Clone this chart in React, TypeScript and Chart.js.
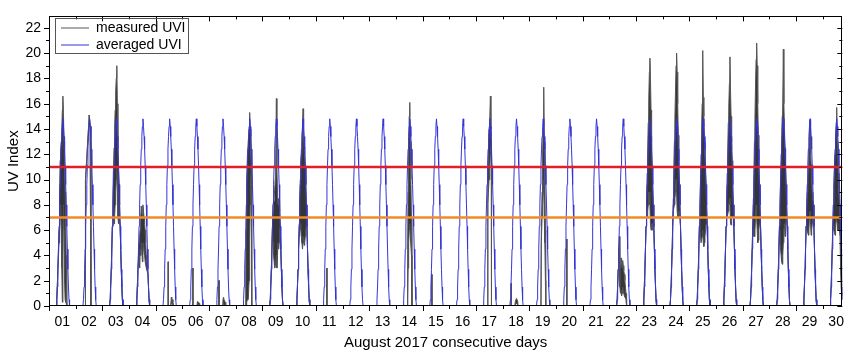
import React, { useEffect, useRef } from 'react';
import { Chart, registerables } from 'chart.js';

Chart.register(...registerables);

const FONT = "'Liberation Sans', Arial, sans-serif";

// ---- axes ----
const dayLabels = ['01','02','03','04','05','06','07','08','09','10','11','12','13','14','15','16','17','18','19','20','21','22','23','24','25','26','27','28','29','30'];
const xMax = 29.73; // days since 1 Aug 00:00
const yMax = 22.9;
const yTickValues = [0, 2, 4, 6, 8, 10, 12, 14, 16, 18, 20, 22];
const xTickDays = [0,1,2,3,4,5,6,7,8,9,10,11,12,13,14,15,16,17,18,19,20,21,22,23,24,25,26,27,28,29];
const yTickUnits = [0,1,2,3,4,5,6,7,8,9,10,11,12,13,14,15,16,17,18,19,20,21,22];

// ---- thresholds ----
const thresholdRed = 11;
const thresholdOrange = 7;

// ---- averaged UVI daily profile (hour of day, UVI) ----
const avgHours = [6.5,7,7.5,8,8.5,9,9.5,10,10.5,11,11.5,12,12.5,13,13.5,14,14.5,15,15.5,16,16.5,17,17.5,18,18.5];
const avgUVI =   [0,0.5,1.5,2.9,4.5,6.3,8.0,9.6,11.1,12.4,13.4,14.2,14.8,14.2,13.4,12.4,11.1,9.6,8.0,6.3,4.5,2.9,1.5,0.5,0];

// ---- measured UVI per day: [hour, upper envelope, lower envelope] ----
type Row = [number, number, number];
const m01: Row[] = [[6.5,0,0],[7,0.5,0.5],[8,2.9,2.9],[9,6,5],[9.5,9,6],[10,11.5,7],[10.5,12.5,8],[11,13,6],[11.5,14,3],[12,15.5,0.3],[12.5,16.6,4],[13,15.2,8],[13.5,13,6],[14,11,2],[14.5,9,0.5],[15,7,0.3],[15.5,4,0.2],[16,0,0]];
const m02: Row[] = [[8.7,0,0],[8.8,10,10],[9.5,11,11],[10.5,12.5,12.5],[11.5,14,14],[12.2,15.1,15.1],[13,14.2,14.2],[13.6,12,12],[13.7,0,0]];
const m03: Row[] = [[6.5,0,0],[7,0.5,0.5],[8,2.9,2.9],[9,6.3,6.3],[9.5,9,6.5],[10,11,7],[10.5,12.5,6.5],[11,14,7],[11.5,15.5,8],[12,17,9],[12.5,18,10],[13,19,11],[13.5,16,9],[14,13,7],[14.5,11,6.5],[15,9.6,7],[15.5,8,7],[16,6.3,6.3],[17,2.9,2.9],[18,0.5,0.5],[18.5,0,0]];
const m04: Row[] = [[6.5,0,0],[7,0.5,0.5],[8,2.9,2.9],[9,5,4],[9.5,5.5,3],[10,6,4.5],[10.5,7,4],[11,7.9,5],[11.5,7.5,4.5],[12,7,3.5],[12.5,8,4],[13,7.5,5],[13.5,7,4.5],[14,6.5,4],[14.5,6,3.5],[15,5,3.5],[15.5,4,3],[16,3.5,3],[17,2.5,2.5],[18,0.5,0.5],[18.5,0,0]];
const m05: Row[] = [[11.1,0,0],[11.2,3.5,3.5],[11.3,0,0],[13.5,0,0],[14,0.7,0.3],[14.5,0.6,0.2],[15,0.5,0.2],[15.5,0.3,0.1],[16,0,0]];
const m06: Row[] = [[9.3,0,0],[9.4,3,3],[9.5,0,0],[13,0,0],[13.5,0.35,0.1],[14.5,0.3,0.1],[15.5,0.2,0],[16,0,0]];
const m07: Row[] = [[8.9,0,0],[9,2,2],[9.1,0,0],[12,0,0],[12.5,0.5,0.1],[13,0.7,0.2],[13.5,0.5,0.1],[14.5,0.3,0],[15,0,0]];
const m08: Row[] = [[8.9,0,0],[9.2,6,0],[9.8,10,0.3],[10.5,12,0.5],[11.2,13,0.5],[12,14,2],[12.5,15.3,5],[13,14,8],[13.5,12,10],[14,11,11],[14.3,0,0]];
const m09: Row[] = [[6.5,0,0],[7,0.5,0.5],[8,2.9,2.9],[9,6.3,6.3],[9.5,8,5],[10,8,4],[10.5,8.5,3.5],[11,8.5,3],[11.5,10,3.2],[12,12,3.5],[12.5,16.4,4],[13,11,3],[13.5,9,4],[14,8,5],[14.5,8.5,4.5],[15,8,5],[15.5,7.5,6],[16,6.3,6.3],[17,2.9,2.9],[18,0.5,0.5],[18.5,0,0]];
const m10: Row[] = [[6.5,0,0],[7,0.5,0.5],[8,2.9,2.9],[8.5,4.5,4.5],[9,6.5,5.5],[9.5,8.5,6],[10,10,6.5],[10.5,11.5,6],[11,12,5.5],[11.5,13,5],[12,14,4.5],[12.5,15.6,5],[13,14,5.5],[13.5,12.5,4.8],[14,12,5],[14.5,11,5.5],[15,9.6,6],[15.5,8,6.5],[16,6.3,6.3],[17,2.9,2.9],[18,0.5,0.5],[18.5,0,0]];
const m11: Row[] = [[9.8,0,0],[9.9,3,3],[10,0,0]];
const m12: Row[] = [];
const m13: Row[] = [];
const m14: Row[] = [[10.2,0,0],[10.6,5,0.5],[11,9,3],[11.5,12,5],[12,15,6],[12.5,16.1,6.5],[13,13,5.5],[13.5,10,5.5],[14,7,4],[14.4,0,0]];
const m15: Row[] = [[8.3,0,0],[8.4,2.5,2.5],[8.5,0,0]];
const m16: Row[] = [];
const m17: Row[] = [[10.6,0,0],[10.7,10,8],[11.2,12,9],[11.8,14,10],[12.5,15,11],[13,16.6,12],[13.5,14,12],[13.9,13,13],[14,0,0]];
const m18: Row[] = [[7.6,0,0],[7.7,1.8,1.8],[7.8,0,0],[11,0,0],[11.5,0.4,0.1],[12.5,0.6,0.2],[13.5,0.4,0.1],[14,0,0]];
const m19: Row[] = [[10.5,0,0],[10.8,6,5],[11.5,9,7],[12,12,8],[12.5,14,9],[13,17.3,10],[13.5,13,7],[14,10,5],[14.5,6,2],[14.7,1.8,1.5],[14.8,0,0]];
const m20: Row[] = [[9.6,0,0],[9.7,5.3,5.3],[9.8,0,0]];
const m21: Row[] = [];
const m22: Row[] = [[6.5,0,0],[7,0.5,0.5],[8,2.9,2.9],[8.5,4.5,4.5],[9,5.5,3],[9.5,3.5,1.5],[10,3,1],[10.5,3.8,1.2],[11,3.5,0.8],[11.5,3,1],[12,3.6,1.5],[12.5,3.2,1.2],[13,2.8,1],[13.5,2.5,0.8],[14,2,0.8],[14.5,1.5,0.6],[15,1,0.5],[15.5,0,0]];
const m23: Row[] = [[6.5,0,0],[7,0.5,0.5],[8,2.9,2.9],[9,6.3,6.3],[9.5,8.5,7],[10,10.5,7],[10.5,12.5,7.5],[11,14.5,8],[11.5,16.5,9],[12,18.5,9],[12.5,19.6,8],[13,18,6.5],[13.5,15.5,6],[14,13,6.5],[14.5,11,6],[15,9.6,6.5],[15.5,8,6.5],[16,6.3,6.3],[17,2.9,2.9],[18,0.5,0.5],[18.5,0,0]];
const m24: Row[] = [[6.5,0,0],[7,0.5,0.5],[8,2.9,2.9],[9,6.3,6.3],[9.5,8.5,7.5],[10,11,7.5],[10.5,13,8],[11,15,8.5],[11.5,17,9],[12,19,10],[12.5,20,9],[13,18.5,7.5],[13.5,16,7],[14,13.5,7],[14.5,11.5,7.5],[15,9.6,7.5],[15.5,8,7.5],[16,6.3,6.3],[17,2.9,2.9],[18,0.5,0.5],[18.5,0,0]];
const m25: Row[] = [[6.5,0,0],[7,0.5,0.5],[8,2.9,2.9],[9,6.3,6.3],[9.5,8,6],[10,10,5.5],[10.5,12,5],[11,14,5],[11.5,16,5.5],[12,20.2,6],[12.5,16.5,5],[13,15,4.7],[13.5,13,5],[14,12,5.5],[14.5,10.5,6],[15,9.6,6.5],[15.5,8,7],[16,6.3,6.3],[17,2.9,2.9],[18,0.5,0.5],[18.5,0,0]];
const m26: Row[] = [[6.5,0,0],[7,0.5,0.5],[8,2.9,2.9],[9,6.3,6.3],[9.5,8.5,7],[10,10.5,7],[10.5,12.5,7],[11,14.5,7.5],[11.5,16,8],[12,17.6,8.5],[12.5,19.7,8],[13,17,6.5],[13.5,15,6.4],[14,13,7],[14.5,11.5,7],[15,9.6,7],[15.5,8,7],[16,6.3,6.3],[17,2.9,2.9],[18,0.5,0.5],[18.5,0,0]];
const m27: Row[] = [[6.5,0,0],[7,0.5,0.5],[8,2.9,2.9],[9,6.3,6.3],[9.5,8.5,6],[10,10.5,5.5],[10.5,13,5.5],[11,15,6],[11.5,17.5,7],[12,19.5,8],[12.5,20.8,7],[13,19,6],[13.5,16,5],[14,13.5,5.2],[14.5,11.5,6],[15,9.6,6.5],[15.5,8,7],[16,6.3,6.3],[17,2.9,2.9],[18,0.5,0.5],[18.5,0,0]];
const m28: Row[] = [[6.5,0,0],[7,0.5,0.5],[8,2.9,2.9],[9,6.3,6],[9.5,8,5],[10,10,4.5],[10.5,12,4],[11,13.5,3.5],[11.5,15,3.3],[12,16.2,4],[12.5,20.3,5],[13,16,6],[13.5,14,6.5],[14,12.5,5.5],[14.5,11,6],[15,9.6,7],[15.5,8,7],[16,6.3,6.3],[17,2.9,2.9],[18,0.5,0.5],[18.5,0,0]];
const m29: Row[] = [[6.5,0,0],[7,0.5,0.5],[8,2.9,2.9],[9,6.3,6.3],[9.5,7.5,6],[10,9,6],[10.5,10,5.8],[11,11,5.6],[11.5,12,6],[12,13.5,7],[12.5,14.7,7.5],[13,12,6.5],[13.5,11.2,5.6],[14,10,6],[14.5,9,6.5],[15,8.5,7],[15.5,8,7],[16,6.3,6.3],[17,2.9,2.9],[18,0.5,0.5],[18.5,0,0]];
const m30: Row[] = [[6.5,0,0],[7,0.5,0.5],[8,2.9,2.9],[9,6.3,6.3],[9.5,8,6.5],[10,9.5,6],[10.5,11,5.8],[11,12,5.6],[11.5,12.9,6],[12,14.5,7],[12.5,15.7,7],[13,13,6.5],[13.5,12,6],[14,10.5,6],[14.5,9,6],[15,8,6],[15.5,7,5.5],[16,5,3],[16.5,3,1.5],[17,1.5,0.8],[17.5,0.8,0.5]];

const measuredDays: Row[][] = [m01,m02,m03,m04,m05,m06,m07,m08,m09,m10,m11,m12,m13,m14,m15,m16,m17,m18,m19,m20,m21,m22,m23,m24,m25,m26,m27,m28,m29,m30];

// legend placement (pixels)
const LEGEND_X = 61;
const LEGEND_Y = 21;
const LEGEND_PAD = 3;
const LEGEND_FONT = 14;
const LEGEND_BOX = 28;

const decorPlugin = {
  id: 'decor',
  afterLayout(chart: any) {
    const lg = chart.legend;
    if (lg) {
      lg.left = LEGEND_X - LEGEND_PAD;
      lg.top = LEGEND_Y - LEGEND_PAD;
    }
  },
  afterDraw(chart: any) {
    const { ctx, chartArea: a, scales } = chart;
    const xs = scales.x;
    const ys = scales.y;
    ctx.save();
    ctx.strokeStyle = '#000';
    ctx.lineWidth = 1;
    ctx.beginPath();
    xTickDays.forEach((v) => {
      if (v > xMax) return;
      const px = Math.round(xs.getPixelForValue(v)) + 0.5;
      const len = v % 2 === 0 ? 5 : 3;
      ctx.moveTo(px, a.bottom);
      ctx.lineTo(px, a.bottom + len);
      ctx.moveTo(px, a.top);
      ctx.lineTo(px, a.top + len);
    });
    yTickUnits.forEach((v) => {
      const py = Math.round(ys.getPixelForValue(v)) + 0.5;
      const len = v % 2 === 0 ? 5 : 3;
      ctx.moveTo(a.left, py);
      ctx.lineTo(a.left - len, py);
      ctx.moveTo(a.right, py);
      ctx.lineTo(a.right - len, py);
    });
    ctx.stroke();
    ctx.strokeRect(Math.round(a.left) + 0.5, Math.round(a.top) + 0.5, Math.round(a.right - a.left) - 1, Math.round(a.bottom - a.top) - 1);

    // legend frame
    const lg = chart.legend;
    if (lg && lg.legendItems) {
      ctx.font = `${LEGEND_FONT}px ${FONT}`;
      let maxW = 0;
      lg.legendItems.forEach((it: any) => { maxW = Math.max(maxW, ctx.measureText(it.text).width); });
      const n = lg.legendItems.length;
      const left = LEGEND_X - 6;
      const top = LEGEND_Y - 3;
      const right = LEGEND_X + LEGEND_BOX + LEGEND_FONT / 2 + maxW + 3;
      const bottom = LEGEND_Y + n * LEGEND_FONT + (n - 1) * LEGEND_PAD + 1;
      ctx.strokeStyle = '#555';
      ctx.strokeRect(left + 0.5, top + 0.5, Math.round(right - left), Math.round(bottom - top));
    }
    ctx.restore();
  },
};

export default function App() {
  const ref = useRef<HTMLCanvasElement | null>(null);

  useEffect(() => {
    if (!ref.current) return;
    Chart.defaults.font.family = FONT;
    Chart.defaults.color = '#000';

    const hiPts: { x: number; y: number }[] = [];
    const loPts: { x: number; y: number }[] = [];
    measuredDays.forEach((rows, d) => {
      rows.forEach(([h, hi, lo]) => {
        hiPts.push({ x: d + h / 24, y: hi });
        loPts.push({ x: d + h / 24, y: lo });
      });
    });
    const avgPts: { x: number; y: number }[] = [];
    dayLabels.forEach((_, d) => {
      avgHours.forEach((h, i) => avgPts.push({ x: d + h / 24, y: avgUVI[i] }));
    });

    const chart = new Chart(ref.current, {
      type: 'line',
      data: {
        datasets: [
          { label: 'measured UVI', data: hiPts, borderColor: '#555555', backgroundColor: '#555555', borderWidth: 1, pointRadius: 0, fill: false, order: 2, pointStyle: 'line' } as any,
          { label: 'measured low', data: loPts, borderColor: '#505050', backgroundColor: '#353535', borderWidth: 1, pointRadius: 0, fill: '-1', order: 2 } as any,
          { label: 'averaged UVI', data: avgPts, borderColor: '#3535d8', backgroundColor: '#3535d8', borderWidth: 1, pointRadius: 0, fill: false, order: 1, pointStyle: 'line' } as any,
          { label: 'UVI 11', data: [{ x: 0, y: thresholdRed }, { x: xMax, y: thresholdRed }], borderColor: '#e01f2a', borderWidth: 2.5, pointRadius: 0, fill: false, order: 0 } as any,
          { label: 'UVI 7', data: [{ x: 0, y: thresholdOrange }, { x: xMax, y: thresholdOrange }], borderColor: '#f28b27', borderWidth: 2.5, pointRadius: 0, fill: false, order: 0 } as any,
        ],
      },
      options: {
        responsive: false,
        animation: false,
        devicePixelRatio: 1,
        layout: { padding: { left: 0, top: 8, right: 9, bottom: 0 }, autoPadding: false } as any,
        elements: { line: { tension: 0 } },
        plugins: {
          tooltip: { enabled: false },
          legend: {
            position: 'chartArea' as any,
            align: 'start',
            labels: {
              usePointStyle: true,
              pointStyle: 'line',
              pointStyleWidth: LEGEND_BOX,
              boxWidth: LEGEND_BOX,
              padding: LEGEND_PAD,
              font: { size: LEGEND_FONT, family: FONT },
              color: '#000',
              filter: (item: any) => item.text === 'measured UVI' || item.text === 'averaged UVI',
              sort: (a: any, b: any) => a.datasetIndex - b.datasetIndex,
            },
          } as any,
        },
        scales: {
          x: {
            type: 'linear',
            min: 0,
            max: xMax,
            afterBuildTicks: (s: any) => { s.ticks = dayLabels.map((_, i) => ({ value: i + 0.5 })); },
            afterFit: (s: any) => { s.height = 50; },
            ticks: {
              autoSkip: false,
              maxRotation: 0,
              minRotation: 0,
              padding: 8,
              font: { size: 14, family: FONT },
              color: '#000',
              callback: (_v: any, i: number) => dayLabels[i],
            },
            grid: { display: false, drawTicks: false },
            border: { display: false },
            title: { display: true, text: 'August 2017 consecutive days', font: { size: 15, family: FONT }, color: '#000', padding: { top: 0, bottom: 4 } },
          } as any,
          y: {
            type: 'linear',
            min: 0,
            max: yMax,
            afterBuildTicks: (s: any) => { s.ticks = yTickValues.map((v) => ({ value: v })); },
            afterFit: (s: any) => { s.width = 49; },
            ticks: { padding: 8, font: { size: 14, family: FONT }, color: '#000' },
            grid: { display: false, drawTicks: false },
            border: { display: false },
            title: { display: true, text: 'UV Index', font: { size: 15, family: FONT }, color: '#000', padding: { top: 5, bottom: 0 } },
          } as any,
        },
      },
      plugins: [decorPlugin],
    });
    return () => chart.destroy();
  }, []);

  return (
    <div style={{ position: 'fixed', left: 0, top: 0, width: 852, height: 356, background: '#fff' }}>
      <canvas ref={ref} width={852} height={356} style={{ display: 'block' }} />
    </div>
  );
}
